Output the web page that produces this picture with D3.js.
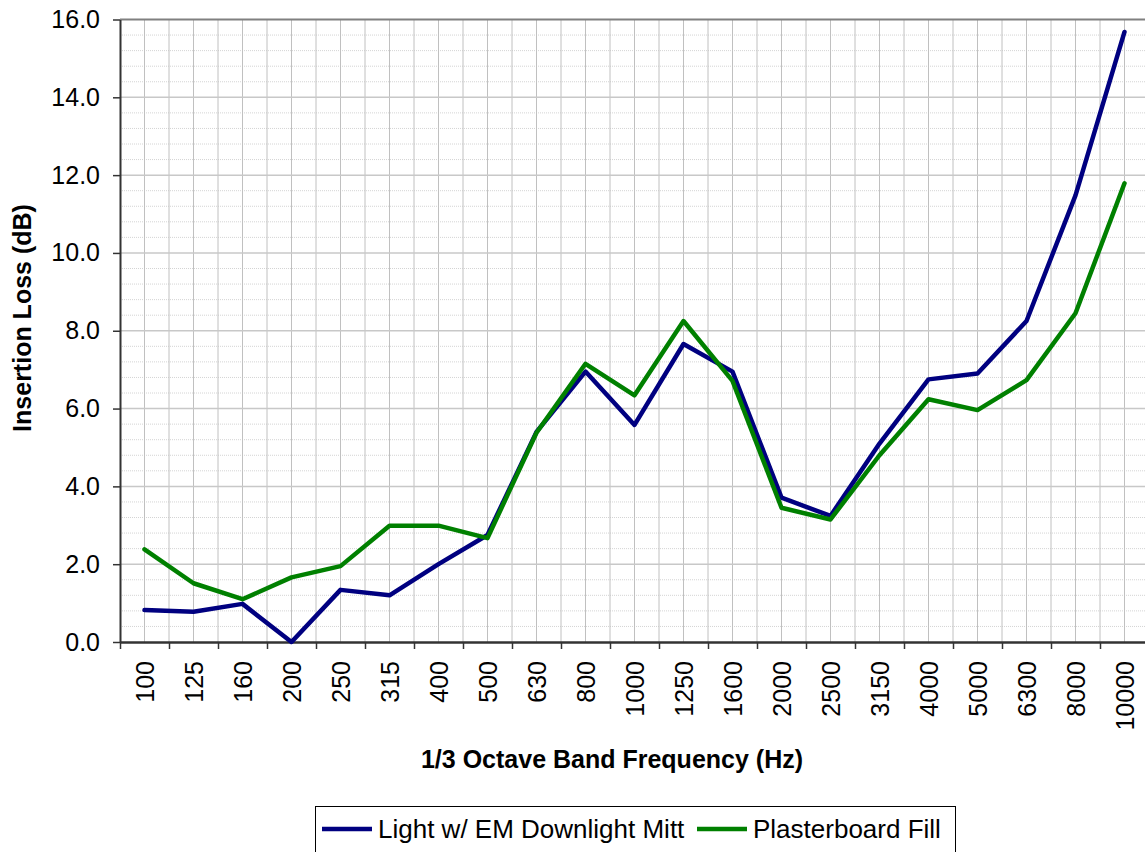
<!DOCTYPE html>
<html>
<head>
<meta charset="utf-8">
<script src="https://cdn.jsdelivr.net/npm/d3@7"></script>
<style>
  html, body { margin: 0; padding: 0; background: #fff; }
  svg { display: block; font-family: "Liberation Sans", Arial, sans-serif; }
</style>
</head>
<body>
<div id="chart"></div>
<script>
// 1/3 octave band centre frequencies (Hz)
const freqs = ["100", "125", "160", "200", "250", "315", "400", "500", "630", "800", "1000",
  "1250", "1600", "2000", "2500", "3150", "4000", "5000", "6300", "8000", "10000"];

// Insertion loss (dB)
const lightMitt = [0.82, 0.78, 0.98, 0.0, 1.34, 1.2, 2.0, 2.75, 5.4, 6.95, 5.58,
  7.66, 6.95, 3.71, 3.24, 5.1, 6.75, 6.9, 8.25, 11.48, 15.68];
const plasterFill = [2.38, 1.51, 1.1, 1.66, 1.95, 2.99, 2.99, 2.67, 5.38, 7.15, 6.34,
  8.25, 6.71, 3.45, 3.15, 4.8, 6.24, 5.96, 6.73, 8.45, 11.79];

const yTicks = [0, 2, 4, 6, 8, 10, 12, 14, 16];
const seriesNames = ["Light w/ EM Downlight Mitt", "Plasterboard Fill"];

const width = 1145, height = 852;
const margin = { top: 19.5, left: 120, bottom: 642, right: 1149 };
const font = "Liberation Sans, Arial, sans-serif";

const svg = d3.select("#chart").append("svg")
  .attr("width", width)
  .attr("height", height);

const x = d3.scaleBand().domain(freqs).range([margin.left, margin.right]).padding(0);
const xEdge = d3.scaleLinear().domain([0, freqs.length]).range([margin.left, margin.right]);
const y = d3.scaleLinear().domain([0, 16]).range([margin.bottom, margin.top]);

// minor horizontal gridlines (every 0.4)
const minor = d3.range(0, 16.01, 0.4).filter(v => Math.abs(v / 2 - Math.round(v / 2)) > 1e-6);
svg.append("g")
  .selectAll("line")
  .data(minor)
  .join("line")
  .attr("x1", margin.left).attr("x2", margin.right)
  .attr("y1", d => y(d)).attr("y2", d => y(d))
  .style("stroke", "#d4d4d4")
  .style("stroke-width", 1)
  .style("stroke-dasharray", "1,1");

// vertical gridlines at band edges and centres
const vLines = d3.range(1, freqs.length * 2).map(i => i / 2);
svg.append("g")
  .selectAll("line")
  .data(vLines)
  .join("line")
  .attr("x1", d => xEdge(d)).attr("x2", d => xEdge(d))
  .attr("y1", margin.top).attr("y2", margin.bottom)
  .style("stroke", "#c0c0c0")
  .style("stroke-width", 1);

// major horizontal gridlines
svg.append("g")
  .selectAll("line")
  .data(yTicks.slice(1, -1))
  .join("line")
  .attr("x1", margin.left).attr("x2", margin.right)
  .attr("y1", d => y(d)).attr("y2", d => y(d))
  .style("stroke", "#c8c8c8")
  .style("stroke-width", 1.5);

// plot border top
svg.append("line")
  .attr("x1", margin.left).attr("x2", margin.right)
  .attr("y1", margin.top).attr("y2", margin.top)
  .style("stroke", "#808080")
  .style("stroke-width", 2);

// y axis
const yAxis = svg.append("g")
  .attr("transform", `translate(${margin.left},0)`)
  .call(d3.axisLeft(y).tickValues(yTicks).tickFormat(d3.format(".1f")).tickSize(7).tickPadding(13).tickSizeOuter(0));
yAxis.select(".domain").style("stroke", "#333").style("stroke-width", 2);
yAxis.selectAll(".tick line").style("stroke", "#333").style("stroke-width", 1.5);
yAxis.selectAll("text").style("font-size", "25px").style("fill", "#000").style("font-family", font);

// x axis: ticks at band edges
const xTickAxis = svg.append("g")
  .attr("transform", `translate(0,${margin.bottom})`)
  .call(d3.axisBottom(xEdge).tickValues(d3.range(freqs.length + 1)).tickFormat("").tickSize(7).tickSizeOuter(0));
xTickAxis.select(".domain").style("stroke", "#333").style("stroke-width", 2.5);
xTickAxis.selectAll(".tick line").style("stroke", "#333").style("stroke-width", 1.5);

// x axis labels (rotated)
const xLab = svg.append("g")
  .attr("transform", `translate(0,${margin.bottom})`)
  .call(d3.axisBottom(x).tickSize(0).tickPadding(0));
xLab.select(".domain").remove();
xLab.selectAll("text")
  .attr("transform", "rotate(-90)")
  .attr("x", -19)
  .attr("y", 0)
  .attr("dy", "0.36em")
  .style("text-anchor", "end")
  .style("font-size", "25px")
  .style("fill", "#000")
  .style("font-family", font);

// series lines
const series = [
  { name: seriesNames[0], values: lightMitt, color: "#000080" },
  { name: seriesNames[1], values: plasterFill, color: "#008000" }
];
const line = d3.line()
  .x((d, i) => x(freqs[i]) + x.bandwidth() / 2)
  .y(d => y(d));

svg.append("g")
  .selectAll("path")
  .data(series)
  .join("path")
  .attr("d", d => line(d.values))
  .style("fill", "none")
  .style("stroke", d => d.color)
  .style("stroke-width", 4.5)
  .style("stroke-linejoin", "round")
  .style("stroke-linecap", "round");

// axis titles
svg.append("text")
  .attr("transform", "translate(31,318) rotate(-90)")
  .style("text-anchor", "middle")
  .style("font-size", "25px")
  .style("font-weight", "bold")
  .text("Insertion Loss (dB)");

svg.append("text")
  .attr("x", 612)
  .attr("y", 768)
  .style("text-anchor", "middle")
  .style("font-size", "25px")
  .style("font-weight", "bold")
  .text("1/3 Octave Band Frequency (Hz)");

// legend
const legend = svg.append("g");
legend.append("rect")
  .attr("x", 315.5).attr("y", 806.5)
  .attr("width", 640).attr("height", 60)
  .style("fill", "#fff")
  .style("stroke", "#000")
  .style("stroke-width", 1);

const legendX = [322, 697];
const items = legend.selectAll("g.item")
  .data(series)
  .join("g")
  .attr("class", "item")
  .attr("transform", (d, i) => `translate(${legendX[i]},829)`);
items.append("line")
  .attr("x1", 0).attr("x2", 50)
  .style("stroke", d => d.color)
  .style("stroke-width", 4.5);
items.append("text")
  .attr("x", 56)
  .attr("dy", "0.36em")
  .style("font-size", "26px")
  .text(d => d.name);
</script>
</body>
</html>
